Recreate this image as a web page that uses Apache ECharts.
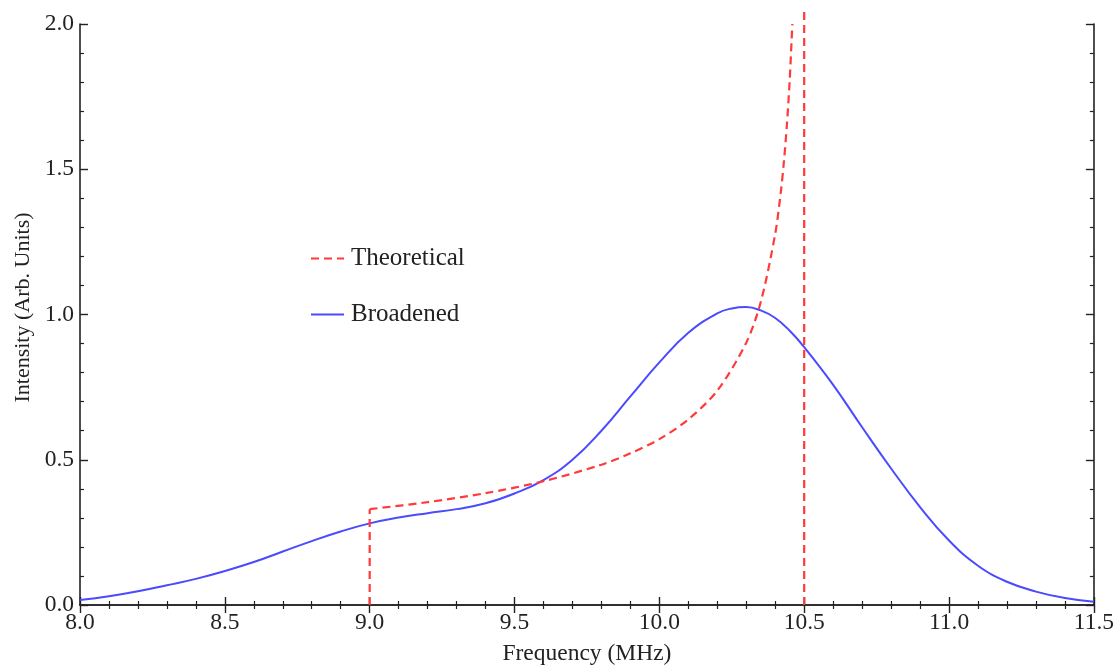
<!DOCTYPE html>
<html>
<head>
<meta charset="utf-8">
<script src="https://cdn.jsdelivr.net/npm/echarts@6/dist/echarts.min.js"></script>
<style>
  html, body { margin: 0; padding: 0; background: #fff; }
  #chart { width: 1117px; height: 671px; }
</style>
</head>
<body>
<div id="chart"></div>
<script>
// Frequency grid (MHz) and intensities of the broadened spectrum
const broadFreq = [8.0, 8.1, 8.2, 8.3, 8.4, 8.5, 8.6, 8.7, 8.8, 8.9,
                   9.0, 9.1, 9.2, 9.3, 9.4, 9.5, 9.6, 9.7, 9.8, 9.9,
                   10.0, 10.1, 10.2, 10.25, 10.3, 10.35, 10.4, 10.45, 10.5, 10.6, 10.7, 10.8, 10.9,
                   11.0, 11.1, 11.2, 11.3, 11.4, 11.5];
const broadValues = [0.017, 0.030, 0.047, 0.068, 0.090, 0.117, 0.148, 0.184, 0.220, 0.253,
                     0.281, 0.301, 0.316, 0.330, 0.350, 0.384, 0.430, 0.500, 0.600, 0.718,
                     0.835, 0.937, 1.004, 1.021, 1.026, 1.014, 0.988, 0.944, 0.888, 0.758, 0.612, 0.470, 0.337,
                     0.222, 0.135, 0.080, 0.046, 0.024, 0.011];

// Theoretical line shape between the two band edges
const theoFreq = [9.0, 9.2, 9.4, 9.6, 9.8, 9.9, 10.0, 10.1, 10.2, 10.3,
                  10.35, 10.4, 10.42, 10.43, 10.44, 10.45, 10.459];
const theoValues = [0.330, 0.354, 0.385, 0.426, 0.483, 0.522, 0.571, 0.639, 0.738, 0.903,
                    1.043, 1.278, 1.428, 1.527, 1.649, 1.807, 2.000];

// Band edges of the theoretical shape
const lowEdge = [[9.0, 0], [9.0, 0.330]];
const highEdge = [[10.5, 0], [10.5, 2.05]];

// Axis ticks
const xTicks = { min: 8.0, max: 11.5, step: 0.5 };
const yTicks = { min: 0.0, max: 2.0, step: 0.5 };

const pair = (xs, ys) => xs.map((x, i) => [x, ys[i]]);

const FONT = '"Liberation Serif", "DejaVu Serif", serif';
const INK = '#222';
const RED = '#ff3a3a';
const BLUE = '#4a4aff';

function axisBase(showLabel) {
  return {
    type: 'value',
    axisLine: { show: true, lineStyle: { color: INK, width: 1.6 } },
    axisTick: { show: true, inside: true, length: 8, lineStyle: { color: INK, width: 1.4 } },
    minorTick: { show: true, splitNumber: 5, length: 4, lineStyle: { color: INK, width: 1.2 } },
    splitLine: { show: false },
    minorSplitLine: { show: false },
    axisLabel: {
      show: showLabel,
      fontFamily: FONT,
      fontSize: 23.5,
      color: INK,
      margin: 6,
      formatter: v => v.toFixed(1)
    }
  };
}

const redDash = { color: RED, width: 2.2, type: [8, 5] };

const option = {
  animation: false,
  backgroundColor: '#fff',
  grid: { left: 80, right: 22, top: 24, bottom: 66, containLabel: false },
  legend: {
    orient: 'vertical',
    left: 305,
    top: 241,
    itemWidth: 33,
    itemHeight: 14,
    itemGap: 31,
    data: ['Theoretical', 'Broadened'],
    // only the line sample is shown, no marker
    itemStyle: { opacity: 0 },
    textStyle: { fontFamily: FONT, fontSize: 25, color: INK, padding: [0, 0, 0, 2] }
  },
  xAxis: [
    Object.assign(axisBase(true), {
      position: 'bottom',
      min: xTicks.min, max: xTicks.max, interval: xTicks.step,
      name: 'Frequency (MHz)',
      nameLocation: 'middle',
      nameGap: 37,
      nameTextStyle: { fontFamily: FONT, fontSize: 23.5, color: INK }
    }),
    Object.assign(axisBase(false), {
      position: 'top',
      min: xTicks.min, max: xTicks.max, interval: xTicks.step
    })
  ],
  yAxis: [
    Object.assign(axisBase(true), {
      position: 'left',
      min: yTicks.min, max: yTicks.max, interval: yTicks.step,
      name: 'Intensity (Arb. Units)',
      nameLocation: 'middle',
      nameGap: 46,
      nameTextStyle: { fontFamily: FONT, fontSize: 22, color: INK, padding: [0, 0, 0, 14] }
    }),
    Object.assign(axisBase(false), {
      position: 'right',
      min: yTicks.min, max: yTicks.max, interval: yTicks.step
    })
  ],
  series: [
    {
      name: 'Theoretical',
      type: 'line',
      data: pair(theoFreq, theoValues),
      smooth: 0.3,
      symbol: 'none',
      lineStyle: redDash,
      itemStyle: { color: RED },
      z: 3
    },
    {
      name: 'Theoretical',
      type: 'line',
      data: lowEdge,
      symbol: 'none',
      lineStyle: redDash,
      itemStyle: { color: RED },
      z: 3
    },
    {
      name: 'Theoretical',
      type: 'line',
      data: highEdge,
      symbol: 'none',
      clip: false,
      lineStyle: redDash,
      itemStyle: { color: RED },
      z: 3
    },
    {
      name: 'Broadened',
      type: 'line',
      data: pair(broadFreq, broadValues),
      smooth: 0.45,
      symbol: 'none',
      lineStyle: { color: BLUE, width: 2 },
      itemStyle: { color: BLUE },
      z: 2
    }
  ]
};

const chart = echarts.init(document.getElementById('chart'), null, { renderer: 'canvas' });
chart.setOption(option);
</script>
</body>
</html>
